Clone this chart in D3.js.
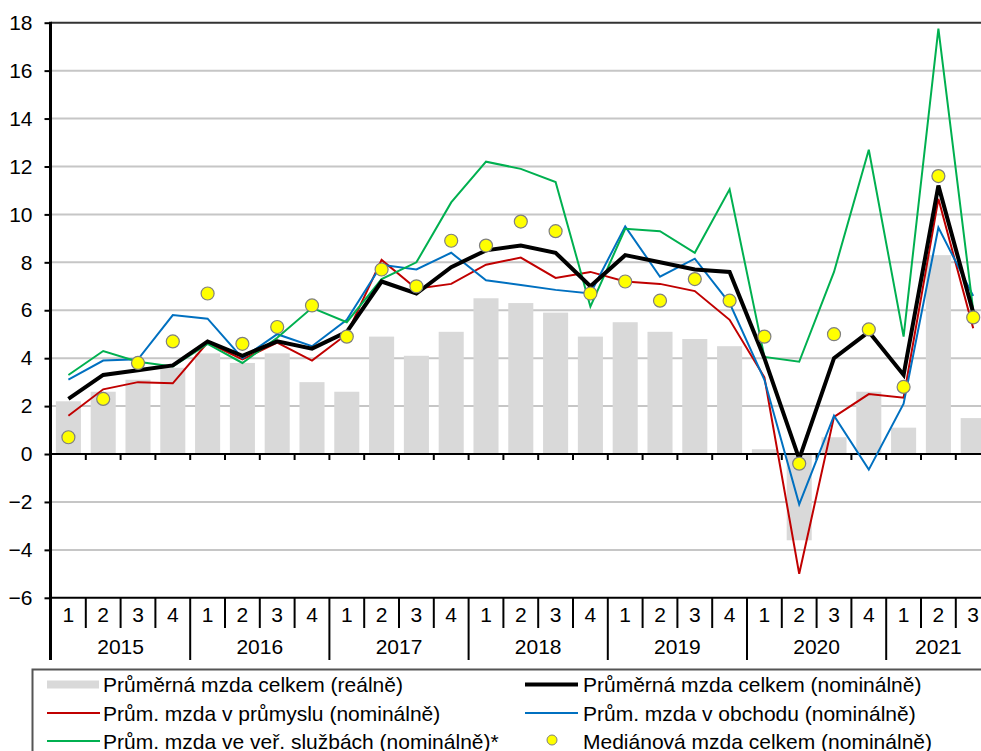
<!DOCTYPE html>
<meta charset="utf-8">
<head>
  <title>Mzdy</title>
</head>

<style>
body {
  margin: 0;
  background: #fff;
}
svg text {
  font-family: Arial, "Liberation Sans", sans-serif;
  font-size: 21px;
  fill: #000;
}
</style>

<body>
  <svg width="981" height="751"></svg>

  <script src="https://cdnjs.cloudflare.com/ajax/libs/d3/7.8.5/d3.min.js"></script>

  <script>
var years = ['2015', '2016', '2017', '2018', '2019', '2020', '2021'];
var quarters = ['1', '2', '3', '4'];
var periods = [];
years.forEach(function(y) {
  quarters.forEach(function(q) {
    if (y === '2021' && q === '4') return;
    periods.push(y + '-' + q);
  });
});

// real average wage (bars)
var realAvg = [2.2, 2.6, 3.1, 3.6, 4.2, 3.8, 4.2, 3.0, 2.6, 4.9, 4.1, 5.1, 6.5, 6.3, 5.9, 4.9,
  5.5, 5.1, 4.8, 4.5, 0.2, -3.6, 0.7, 2.6, 1.1, 8.3, 1.5];
// nominal average wage
var nomAvg = [2.3, 3.3, 3.5, 3.7, 4.7, 4.1, 4.7, 4.4, 5.1, 7.2, 6.7, 7.8, 8.5, 8.7, 8.4, 7.0,
  8.3, 8.0, 7.7, 7.6, 4.0, -0.2, 4.0, 5.1, 3.3, 11.2, 5.9];
var industry = [1.6, 2.7, 3.0, 2.95, 4.65, 3.95, 4.65, 3.9, 5.0, 8.1, 6.9, 7.1, 7.9, 8.2, 7.35, 7.6,
  7.2, 7.1, 6.8, 5.6, 3.2, -5.0, 1.55, 2.5, 2.35, 10.65, 5.25];
var trade = [3.1, 3.9, 3.95, 5.8, 5.65, 4.0, 5.0, 4.5, 5.6, 7.9, 7.7, 8.4, 7.25, 7.05, 6.85, 6.7,
  9.5, 7.4, 8.15, 6.3, 3.1, -2.1, 1.6, -0.65, 2.1, 9.45, 6.6];
var publicServ = [3.3, 4.3, 3.85, 3.65, 4.6, 3.8, 4.85, 6.1, 5.5, 7.3, 8.0, 10.5, 12.2, 11.9, 11.35, 6.15,
  9.4, 9.3, 8.4, 11.05, 4.05, 3.85, 7.6, 12.7, 4.9, 17.75, 6.0];
var median = [0.7, 2.3, 3.8, 4.7, 6.7, 4.6, 5.3, 6.2, 4.9, 7.7, 7.0, 8.9, 8.7, 9.7, 9.3, 6.7,
  7.2, 6.4, 7.3, 6.4, 4.9, -0.4, 5.0, 5.2, 2.8, 11.6, 5.7];

var yTicks = [-6, -4, -2, 0, 2, 4, 6, 8, 10, 12, 14, 16, 18];

var svg = d3.select('svg');

var x = d3.scaleBand()
  .domain(periods)
  .range([51, 51 + 27 * 34.8]);

var y = d3.scaleLinear()
  .domain([-6, 18])
  .range([597.8, 22.7]);

function cx(d, i) { return x(periods[i]) + x.bandwidth() / 2; }

// gridlines
svg.append('g')
  .selectAll('line')
  .data(yTicks.filter(function(t) { return t !== 0 && t !== -6 && t !== 18; }))
  .join('line')
  .attr('x1', 51).attr('x2', 981)
  .attr('y1', function(d) { return y(d); })
  .attr('y2', function(d) { return y(d); })
  .attr('stroke', '#c6c6c6')
  .attr('stroke-width', 2);

svg.append('line')
  .attr('x1', 51).attr('x2', 981)
  .attr('y1', y(18)).attr('y2', y(18))
  .attr('stroke', '#333').attr('stroke-width', 2);

// bars
var bw = x.bandwidth() * 0.72;
svg.append('g')
  .selectAll('rect')
  .data(realAvg)
  .join('rect')
  .attr('x', function(d, i) { return cx(d, i) - bw / 2; })
  .attr('width', bw)
  .attr('y', function(d) { return y(Math.max(0, d)); })
  .attr('height', function(d) { return Math.abs(y(d) - y(0)); })
  .attr('fill', '#d9d9d9');

// zero line + category ticks
svg.append('line')
  .attr('x1', 51).attr('x2', 981)
  .attr('y1', y(0)).attr('y2', y(0))
  .attr('stroke', '#000').attr('stroke-width', 2);

svg.append('g')
  .selectAll('line')
  .data(periods.slice(1))
  .join('line')
  .attr('x1', function(d) { return x(d); })
  .attr('x2', function(d) { return x(d); })
  .attr('y1', y(0)).attr('y2', y(0) + 6)
  .attr('stroke', '#000').attr('stroke-width', 2);

// bottom line at -6
svg.append('line')
  .attr('x1', 51).attr('x2', 981)
  .attr('y1', y(-6)).attr('y2', y(-6))
  .attr('stroke', '#000').attr('stroke-width', 2);

// y axis
var yAxis = svg.append('g')
  .attr('transform', 'translate(50.5,0)')
  .call(d3.axisLeft(y).tickValues(yTicks).tickSize(6).tickPadding(12));
yAxis.select('.domain').remove();
yAxis.selectAll('.tick line').attr('stroke', '#000').attr('stroke-width', 2);
yAxis.selectAll('.tick text')
  .attr('font-size', 21)
  .attr('font-family', 'Arial, "Liberation Sans", sans-serif')
  .attr('x', -18);

svg.append('line')
  .attr('x1', 50.5).attr('x2', 50.5)
  .attr('y1', y(18) - 1).attr('y2', 660)
  .attr('stroke', '#000').attr('stroke-width', 3);

// category labels
var catTop = y(-6);
svg.append('g')
  .selectAll('line')
  .data(periods.slice(1))
  .join('line')
  .attr('x1', function(d) { return x(d); })
  .attr('x2', function(d) { return x(d); })
  .attr('y1', catTop)
  .attr('y2', function(d) { return d.slice(5) === '1' ? 660 : 628; })
  .attr('stroke', '#000').attr('stroke-width', 2);

svg.append('g')
  .selectAll('text')
  .data(periods)
  .join('text')
  .attr('x', function(d) { return x(d) + x.bandwidth() / 2; })
  .attr('y', 622)
  .attr('text-anchor', 'middle')
  .text(function(d) { return d.slice(5); });

svg.append('g')
  .selectAll('text')
  .data(years)
  .join('text')
  .attr('x', function(d) {
    var qs = periods.filter(function(p) { return p.slice(0, 4) === d; });
    var a = x(qs[0]), b = x(qs[qs.length - 1]) + x.bandwidth();
    return (a + b) / 2;
  })
  .attr('y', 653.5)
  .attr('text-anchor', 'middle')
  .text(function(d) { return d; });

// lines
var line = d3.line()
  .x(cx)
  .y(function(d) { return y(d); });

var series = [
  { values: industry, color: '#c00000', width: 2 },
  { values: trade, color: '#0070c0', width: 2 },
  { values: publicServ, color: '#00b050', width: 2 },
  { values: nomAvg, color: '#000', width: 4 }
];

series.forEach(function(s) {
  svg.append('path')
    .datum(s.values)
    .attr('d', line)
    .attr('fill', 'none')
    .attr('stroke', s.color)
    .attr('stroke-width', s.width)
    .attr('stroke-linejoin', 'miter');
});

// median dots
svg.append('g')
  .selectAll('circle')
  .data(median)
  .join('circle')
  .attr('cx', cx)
  .attr('cy', function(d) { return y(d); })
  .attr('r', 6.5)
  .attr('fill', '#ffff00')
  .attr('stroke', '#7f7f7f')
  .attr('stroke-width', 1.2);

// legend
svg.append('rect')
  .attr('x', 32.5).attr('y', 669.5)
  .attr('width', 1000).attr('height', 200)
  .attr('fill', '#fff')
  .attr('stroke', '#555').attr('stroke-width', 2);

var legendItems = [
  { label: 'Průměrná mzda celkem (reálně)', type: 'bar', color: '#d9d9d9', col: 0, row: 0 },
  { label: 'Průměrná mzda celkem (nominálně)', type: 'line', color: '#000', w: 4, col: 1, row: 0 },
  { label: 'Prům. mzda v průmyslu (nominálně)', type: 'line', color: '#c00000', w: 2, col: 0, row: 1 },
  { label: 'Prům. mzda v obchodu (nominálně)', type: 'line', color: '#0070c0', w: 2, col: 1, row: 1 },
  { label: 'Prům. mzda ve veř. službách (nominálně)*', type: 'line', color: '#00b050', w: 2, col: 0, row: 2 },
  { label: 'Mediánová mzda celkem (nominálně)', type: 'dot', color: '#ffff00', col: 1, row: 2 }
];

var colX = [47, 525];
var textX = [103, 583];
var rowY = [684.5, 713, 741];

legendItems.forEach(function(it) {
  var gx = colX[it.col], gy = rowY[it.row];
  var g = svg.append('g');
  if (it.type === 'bar') {
    g.append('rect').attr('x', gx).attr('y', gy - 4).attr('width', 52).attr('height', 8).attr('fill', it.color);
  } else if (it.type === 'line') {
    g.append('line').attr('x1', gx).attr('x2', gx + 53).attr('y1', gy).attr('y2', gy)
      .attr('stroke', it.color).attr('stroke-width', it.w);
  } else {
    g.append('circle').attr('cx', gx + 27).attr('cy', gy - 1).attr('r', 5)
      .attr('fill', it.color).attr('stroke', '#7f7f7f').attr('stroke-width', 1);
  }
  g.append('text')
    .attr('x', textX[it.col])
    .attr('y', gy + 7.5)
    .text(it.label);
});
  </script>
</body>
</html>
